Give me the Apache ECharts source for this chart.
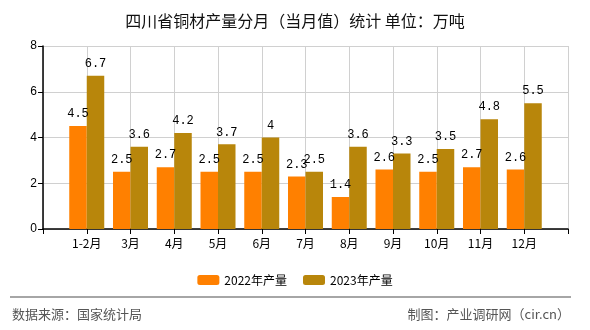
<!DOCTYPE html>
<html><head><meta charset="utf-8">
<script src="https://cdn.jsdelivr.net/npm/echarts@6/dist/echarts.min.js"></script>
<style>html,body{margin:0;padding:0;background:#fff}#c{width:590px;height:330px}</style>
</head><body><div id="c"></div>
<script>
const categories = ['1-2月','3月','4月','5月','6月','7月','8月','9月','10月','11月','12月'];
const values2022 = [4.5,2.5,2.7,2.5,2.5,2.3,1.4,2.6,2.5,2.7,2.6];
const values2023 = [6.7,3.6,4.2,3.7,4,2.5,3.6,3.3,3.5,4.8,5.5];
const seriesNames = ['2022年产量','2023年产量'];
const yTicks = [0,2,4,6,8];

const axisCats = [''].concat(categories, ['']);
const pad = a => ['-'].concat(a, ['-']);
const labelStyle = {show:true, position:'top', distance:6, color:'#000', fontFamily:'Liberation Mono, DejaVu Sans Mono, monospace', fontSize:12};

const chart = echarts.init(document.getElementById('c'), null, {renderer:'canvas'});
chart.setOption({
  animation:false,
  backgroundColor:'#fff',
  title:{text:'四川省铜材产量分月（当月值）统计 单位：万吨', left:'center', top:8,
    textStyle:{fontSize:16, fontWeight:'normal', color:'#111', fontFamily:'Noto Sans CJK SC'}},
  grid:{left:43, right:22, top:46, bottom:101, containLabel:false},
  legend:{top:269, left:'center', itemWidth:22, itemHeight:10, itemGap:16,
    textStyle:{fontSize:12, color:'#000', fontFamily:'Noto Sans CJK SC'}, data:seriesNames},
  xAxis:{type:'category', data:axisCats, boundaryGap:false,
    axisLine:{lineStyle:{color:'#000', width:1.5}},
    axisTick:{show:true, length:5, lineStyle:{color:'#000'}},
    axisLabel:{interval:0, color:'#000', fontSize:12, margin:8, fontFamily:'Noto Sans CJK SC'},
    splitLine:{show:true, lineStyle:{color:'#d0d0d0'}}},
  yAxis:{type:'value', min:yTicks[0], max:yTicks[yTicks.length-1], interval:2,
    axisLine:{show:true, lineStyle:{color:'#000', width:1.5}},
    axisTick:{show:true, length:5, lineStyle:{color:'#000'}},
    axisLabel:{color:'#000', fontSize:12, margin:6},
    splitLine:{show:true, lineStyle:{color:'#d0d0d0'}}},
  series:[
    {name:seriesNames[0], type:'bar', data:pad(values2022), barGap:'0%', barCategoryGap:'20%',
      itemStyle:{color:'#FF8000'}, label:labelStyle},
    {name:seriesNames[1], type:'bar', data:pad(values2023), barGap:'0%', barCategoryGap:'20%',
      itemStyle:{color:'#B8860B'}, label:labelStyle}
  ],
  graphic:[
    {type:'line', shape:{x1:10, y1:297, x2:571, y2:297}, style:{stroke:'#888', lineWidth:1.5}},
    {type:'text', left:12, top:308, style:{text:'数据来源：国家统计局', fill:'#555', fontSize:13, fontFamily:'Noto Sans CJK SC'}},
    {type:'text', right:20, top:308, style:{text:'制图：产业调研网（cir.cn）', fill:'#555', fontSize:13, fontFamily:'Noto Sans CJK SC'}}
  ]
});
</script></body></html>
